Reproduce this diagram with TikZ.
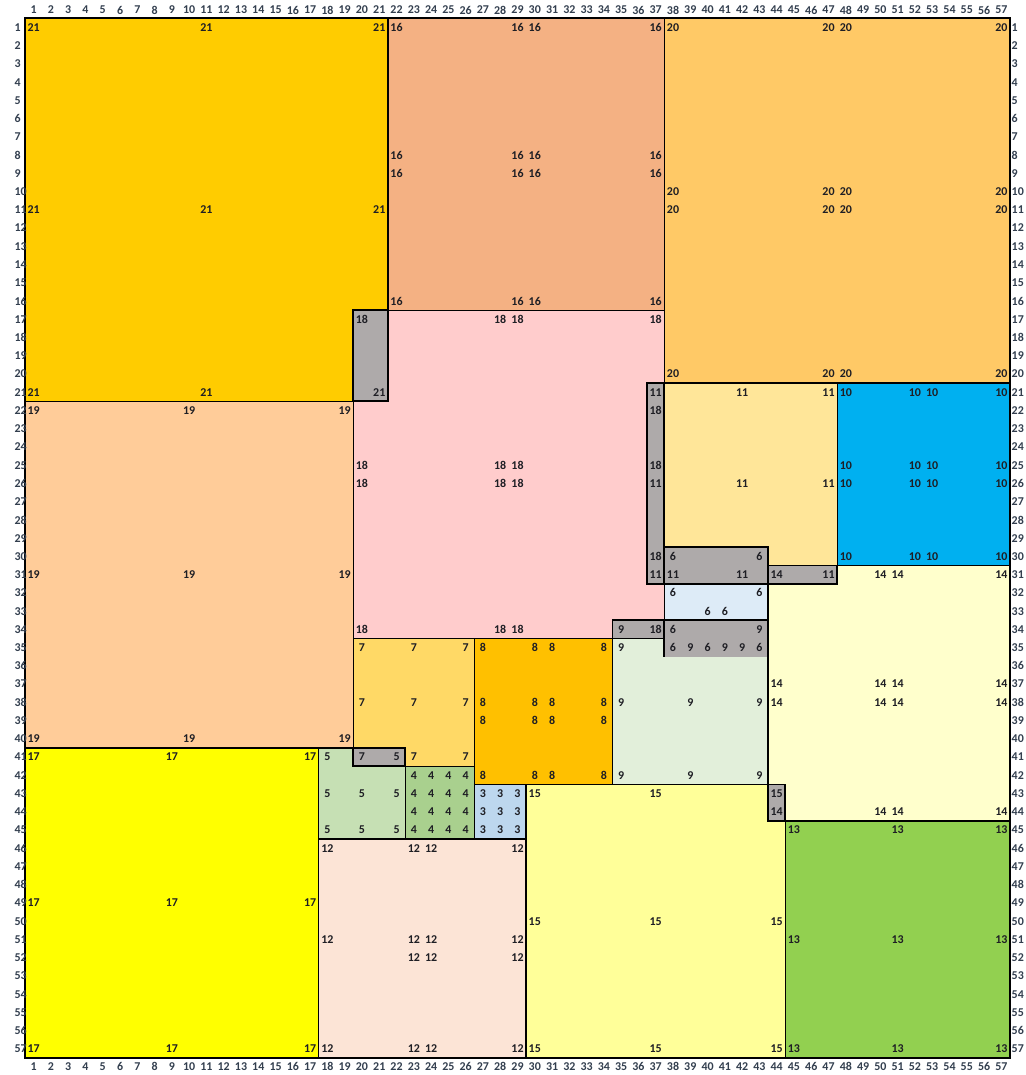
\documentclass[tikz,border=0pt]{standalone}
\usepackage{fontspec}
\setmainfont{Carlito}
\usepackage{xcolor}
\usepackage{tikz}

\definecolor{c21}{HTML}{FFCC00}
\definecolor{c20}{HTML}{FFC966}
\definecolor{c19}{HTML}{FFCC99}
\definecolor{c18}{HTML}{FFCCCC}
\definecolor{c17}{HTML}{FFFF00}
\definecolor{c16}{HTML}{F4B183}
\definecolor{c15}{HTML}{FFFF99}
\definecolor{c14}{HTML}{FFFFCC}
\definecolor{c13}{HTML}{92D050}
\definecolor{c12}{HTML}{FCE4D6}
\definecolor{c11}{HTML}{FFE699}
\definecolor{c10}{HTML}{00B0F0}
\definecolor{c9}{HTML}{E2EFDA}
\definecolor{c8}{HTML}{FFC000}
\definecolor{c7}{HTML}{FFD966}
\definecolor{c6}{HTML}{DDEBF7}
\definecolor{c5}{HTML}{C6E0B4}
\definecolor{c4}{HTML}{A9D08E}
\definecolor{c3}{HTML}{BDD7EE}
\definecolor{ovgrey}{HTML}{AEAAAA}
\definecolor{numtxt}{HTML}{1E1E24}
\definecolor{hdrtxt}{HTML}{333F4F}

\begin{document}
\begin{tikzpicture}[
  x=0.3456cm, y=-0.3648cm,
  sqline/.style={draw=black,line width=0.75pt},
  ovline/.style={draw=black,line width=1.05pt},
  num/.style={inner sep=0pt,font=\bfseries\fontsize{6.8}{7}\selectfont,text=numtxt},
  hdr/.style={inner sep=0pt,font=\bfseries\fontsize{6.8}{8}\selectfont,text=hdrtxt}
]
  \useasboundingbox (-1.447,-1.003) rectangle (57.87,57.93);

  % squares: first column / first row / side
  \foreach \c/\r/\n in {1/1/21,22/1/16,38/1/20,20/17/18,1/22/19,37/21/11,48/21/10,
      38/30/6,44/31/14,35/34/9,20/35/7,27/35/8,18/41/5,1/41/17,23/42/4,27/43/3,
      30/43/15,45/45/13,18/46/12}
    \fill[fill=c\n] (\c-1,\r-1) rectangle ++(\n,\n);

  % overlaps
  \foreach \c/\r/\w/\h in {20/17/2/5,37/21/1/11,38/30/6/2,44/31/4/1,35/34/3/1,
      38/34/6/2,44/43/1/2,20/41/3/1}
    \fill[ovgrey] (\c-1,\r-1) rectangle ++(\w,\h);

  \foreach \c/\r/\n in {1/1/21,22/1/16,38/1/20,20/17/18,1/22/19,37/21/11,48/21/10,
      44/31/14,35/34/9,20/35/7,27/35/8,18/41/5,1/41/17,23/42/4,27/43/3,
      30/43/15,45/45/13,18/46/12}
    \draw[sqline] (\c-1,\r-1) rectangle ++(\n,\n);
  \draw[sqline] (37,35) -- (37,29) -- (43,29) -- (43,35);

  \foreach \c/\r/\w/\h in {20/17/2/5,37/21/1/11,38/30/6/2,44/31/4/1,35/34/3/1,
      44/43/1/2,20/41/3/1}
    \draw[ovline] (\c-1,\r-1) rectangle ++(\w,\h);
  \draw[ovline] (37,35) -- (37,33) -- (43,33) -- (43,35);

  \draw[line width=1.3pt] (0,0) rectangle (57,57);

  % labels
  \foreach \c in {1,11,21} \foreach \r in {1,11,21}
    \node[num] (a21-\c-\r) at (\c-0.5,\r-0.5) {21};
  \foreach \c in {22,29,30,37} \foreach \r in {1,8,9,16}
    \node[num] (a16-\c-\r) at (\c-0.5,\r-0.5) {16};
  \foreach \c in {38,47,48,57} \foreach \r in {1,10,11,20}
    \node[num] (a20-\c-\r) at (\c-0.5,\r-0.5) {20};
  \foreach \c in {1,10,19} \foreach \r in {22,31,40}
    \node[num] (a19-\c-\r) at (\c-0.5,\r-0.5) {19};
  \foreach \c in {1,9,17} \foreach \r in {41,49,57}
    \node[num] (a17-\c-\r) at (\c-0.5,\r-0.5) {17};
  \foreach \c in {20,28,29} \foreach \r in {17,25,26,34}
    \node[num] (a18-\c-\r) at (\c-0.5,\r-0.5) {18};
  \foreach \r in {17,22,25,30,34}
    \node[num] (a18-37-\r) at (36.5,\r-0.5) {18};
  \foreach \c/\r in {37/21,42/21,47/21,37/26,42/26,47/26,37/31,38/31,42/31,47/31}
    \node[num] (a11-\c-\r) at (\c-0.5,\r-0.5) {11};
  \foreach \c in {48,52,53,57} \foreach \r in {21,25,26,30}
    \node[num] (a10-\c-\r) at (\c-0.5,\r-0.5) {10};
  \foreach \c in {44,50,51,57} \foreach \r in {31,37,38,44}
    \node[num] (a14-\c-\r) at (\c-0.5,\r-0.5) {14};
  \foreach \c in {45,51,57} \foreach \r in {45,51,57}
    \node[num] (a13-\c-\r) at (\c-0.5,\r-0.5) {13};
  \foreach \c in {30,37,44} \foreach \r in {43,50,57}
    \node[num] (a15-\c-\r) at (\c-0.5,\r-0.5) {15};
  \foreach \c/\r in {18/46,23/46,24/46,29/46,18/51,23/51,24/51,29/51,
      23/52,24/52,29/52,18/57,23/57,24/57,29/57}
    \node[num] (a12-\c-\r) at (\c-0.5,\r-0.5) {12};
  \foreach \c/\r in {35/34,43/34,35/35,39/35,41/35,42/35,35/38,39/38,43/38,
      35/42,39/42,43/42}
    \node[num] (a9-\c-\r) at (\c-0.5,\r-0.5) {9};
  \foreach \c/\r in {38/30,43/30,38/32,43/32,40/33,41/33,38/34,38/35,40/35,43/35}
    \node[num] (a6-\c-\r) at (\c-0.5,\r-0.5) {6};
  \foreach \c in {27,30,31,34} \foreach \r in {35,38,39,42}
    \node[num] (a8-\c-\r) at (\c-0.5,\r-0.5) {8};
  \foreach \c in {20,23,26} \foreach \r in {35,38,41}
    \node[num] (a7-\c-\r) at (\c-0.5,\r-0.5) {7};
  \foreach \c/\r in {18/41,22/41,18/43,20/43,22/43,18/45,20/45,22/45}
    \node[num] (a5-\c-\r) at (\c-0.5,\r-0.5) {5};
  \foreach \c in {23,...,26} \foreach \r in {42,...,45}
    \node[num] (a4-\c-\r) at (\c-0.5,\r-0.5) {4};
  \foreach \c in {27,28,29} \foreach \r in {43,44,45}
    \node[num] (a3-\c-\r) at (\c-0.5,\r-0.5) {3};

  % column and row numbers
  \foreach \i in {1,...,57} {
    \node[hdr] (top-\i) at (\i-0.5,-0.455) {\i};
    \node[hdr] (bot-\i) at (\i-0.5,57.48) {\i};
    \node[hdr,anchor=west] (lft-\i) at (-0.62,\i-0.5) {\i};
    \node[hdr,anchor=west] (rgt-\i) at (57.08,\i-0.5) {\i};
  }
\end{tikzpicture}
\end{document}
